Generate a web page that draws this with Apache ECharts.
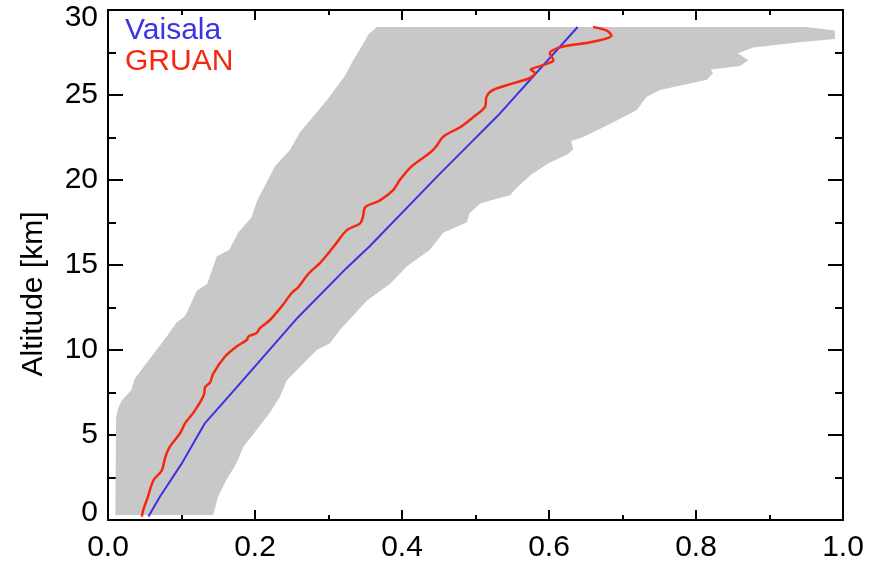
<!DOCTYPE html>
<html>
<head>
<meta charset="utf-8">
<script src="https://cdn.jsdelivr.net/npm/echarts@6/dist/echarts.min.js"></script>
<style>
html,body{margin:0;padding:0;background:#fff;}
#chart{width:869px;height:565px;}
</style>
</head>
<body>
<div id="chart"></div>
<script>
// Ticks
var xTicks = [0.0, 0.2, 0.4, 0.6, 0.8, 1.0];
var yTicks = [0, 5, 10, 15, 20, 25, 30];

// Vaisala profile (x value, altitude km)
var vaisalaX   = [0.055, 0.071, 0.100, 0.132, 0.172, 0.258, 0.324, 0.356, 0.450, 0.533, 0.639];
var vaisalaAlt = [0.2,   1.4,   3.3,   5.7,   7.65,  11.9,  14.8,  16.1,  20.3,  23.9,  29.0];

// GRUAN profile
var gruanX = [0.046,0.048,0.053,0.062,0.073,0.078,0.084,0.098,0.105,0.116,0.127,0.131,0.132,0.139,0.143,0.159,0.175,0.189,0.191,0.202,0.207,0.220,0.236,0.250,0.259,0.273,0.288,0.300,0.311,0.325,0.343,0.347,0.350,0.370,0.388,0.397,0.413,0.438,0.447,0.456,0.479,0.497,0.513,0.515,0.524,0.552,0.574,0.581,0.575,0.588,0.601,0.606,0.601,0.619,0.656,0.685,0.678,0.660];
var gruanAlt = [0.2,0.6,1.2,2.35,2.9,3.7,4.3,5.1,5.7,6.3,7.05,7.45,7.8,8.1,8.6,9.6,10.2,10.6,10.8,11.0,11.3,11.75,12.55,13.35,13.7,14.5,15.1,15.7,16.3,17.05,17.45,17.85,18.4,18.8,19.4,20.0,20.8,21.6,22.0,22.55,23.1,23.7,24.3,24.9,25.3,25.7,26.0,26.3,26.5,26.7,26.9,27.05,27.45,27.85,28.1,28.5,28.8,29.0];

// Spread band: left (minimum) edge and right (maximum) edge
var bandLeftX   = [0.010,0.011,0.014,0.019,0.032,0.034,0.036,0.066,0.080,0.093,0.105,0.121,0.135,0.148,0.165,0.177,0.195,0.203,0.215,0.227,0.248,0.261,0.298,0.322,0.333,0.347,0.355,0.366];
var bandLeftAlt = [0.3,  6.0,  6.6,  7.05, 7.65, 8.0,  8.3,  10.0, 10.8, 11.6, 12.0, 13.5, 13.9, 15.5, 15.9, 16.9, 17.8, 18.8, 19.8, 20.8, 21.8, 22.8, 24.7, 26.1, 27.0, 28.0, 28.6, 29.0];
var bandRightX   = [0.143,0.150,0.161,0.175,0.184,0.202,0.220,0.234,0.243,0.284,0.302,0.316,0.333,0.352,0.384,0.406,0.438,0.456,0.488,0.492,0.506,0.520,0.547,0.555,0.575,0.600,0.625,0.633,0.630,0.645,0.683,0.719,0.733,0.751,0.815,0.823,0.820,0.860,0.871,0.857,0.878,0.940,0.989,0.989,0.950];
var bandRightAlt = [0.3,  1.4,  2.35, 3.35, 4.3,  5.3,  6.3,  7.25, 8.2,  10.0, 10.4, 11.2, 12.0, 12.9, 13.9, 14.9, 15.9, 16.9, 17.5, 18.05,18.6, 18.8, 19.1, 19.5, 20.3, 21.0, 21.5, 21.8, 22.3, 22.5, 23.3, 24.1, 24.9, 25.3, 25.9, 26.3, 26.5, 26.7, 27.05,27.45,27.8, 28.1, 28.3, 28.8, 29.0];

var BLUE = '#3d32e3';
var RED = '#f5280f';
var GRAY = '#c8c8c8';
var FONT = '"Liberation Sans", Arial, Helvetica, sans-serif';

function pairs(xs, ys) { return xs.map(function (x, i) { return [x, ys[i]]; }); }

var chart = echarts.init(document.getElementById('chart'), null, {renderer: 'canvas'});

var axisLine = {show: true, onZero: false, lineStyle: {color: '#000', width: 2}};

function makeX(pos, showLabel) {
  return {
    type: 'value', position: pos, min: xTicks[0], max: xTicks[xTicks.length - 1], interval: 0.2,
    axisLine: axisLine,
    axisTick: {show: true, inside: true, length: 10, lineStyle: {color: '#000', width: 2}},
    minorTick: {show: true, splitNumber: 2, length: 5, lineStyle: {color: '#000', width: 2}},
    splitLine: {show: false}, minorSplitLine: {show: false},
    axisLabel: {show: showLabel, margin: 13, color: '#000', fontSize: 30, fontFamily: FONT,
      formatter: function (v) { return v.toFixed(1); }}
  };
}
function makeY(pos, showLabel) {
  return {
    type: 'value', position: pos, min: yTicks[0], max: yTicks[yTicks.length - 1], interval: 5,
    axisLine: axisLine,
    axisTick: {show: true, inside: true, length: 15, lineStyle: {color: '#000', width: 2}},
    minorTick: {show: true, splitNumber: 2, length: 8, lineStyle: {color: '#000', width: 2}},
    splitLine: {show: false}, minorSplitLine: {show: false},
    axisLabel: {show: showLabel, margin: 10, color: '#000', fontSize: 30, fontFamily: FONT, lineHeight: 15,
      verticalAlignMinLabel: 'bottom', verticalAlignMaxLabel: 'top'}
  };
}

var option = {
  backgroundColor: '#fff',
  animation: false,
  grid: {left: 108, right: 26, top: 10, bottom: 45, containLabel: false},
  xAxis: [makeX('bottom', true), makeX('top', false)],
  yAxis: [makeY('left', true), makeY('right', false)],
  legend: {
    show: true, orient: 'vertical', left: 120, top: 16, padding: 0,
    icon: 'none', itemWidth: 0, itemHeight: 14, itemGap: 1,
    selectedMode: false,
    textStyle: {fontSize: 30, fontFamily: FONT, lineHeight: 30},
    data: [
      {name: 'Vaisala', textStyle: {color: BLUE}},
      {name: 'GRUAN', textStyle: {color: RED}}
    ]
  },
  graphic: [{
    type: 'text', x: 34, y: 294, rotation: Math.PI / 2,
    style: {text: 'Altitude [km]', fill: '#000', font: '30px ' + FONT, align: 'center', verticalAlign: 'middle'}
  }],
  series: [
    {
      name: 'band', type: 'custom', xAxisIndex: 0, yAxisIndex: 0, z: 1, silent: true,
      data: [[0, 0]],
      renderItem: function (params, api) {
        var pts = [];
        for (var i = 0; i < bandLeftX.length; i++) pts.push(api.coord([bandLeftX[i], bandLeftAlt[i]]));
        for (var j = bandRightX.length - 1; j >= 0; j--) pts.push(api.coord([bandRightX[j], bandRightAlt[j]]));
        return {type: 'polygon', shape: {points: pts}, style: {fill: GRAY, stroke: null}};
      }
    },
    {
      name: 'Vaisala', type: 'line', z: 3, showSymbol: false, symbol: 'none',
      data: pairs(vaisalaX, vaisalaAlt),
      lineStyle: {color: BLUE, width: 2}, itemStyle: {color: BLUE}
    },
    {
      name: 'GRUAN', type: 'line', z: 4, showSymbol: false, symbol: 'none', smooth: 0.3,
      data: pairs(gruanX, gruanAlt),
      lineStyle: {color: RED, width: 2.5}, itemStyle: {color: RED}
    }
  ]
};
chart.setOption(option);
</script>
</body>
</html>
